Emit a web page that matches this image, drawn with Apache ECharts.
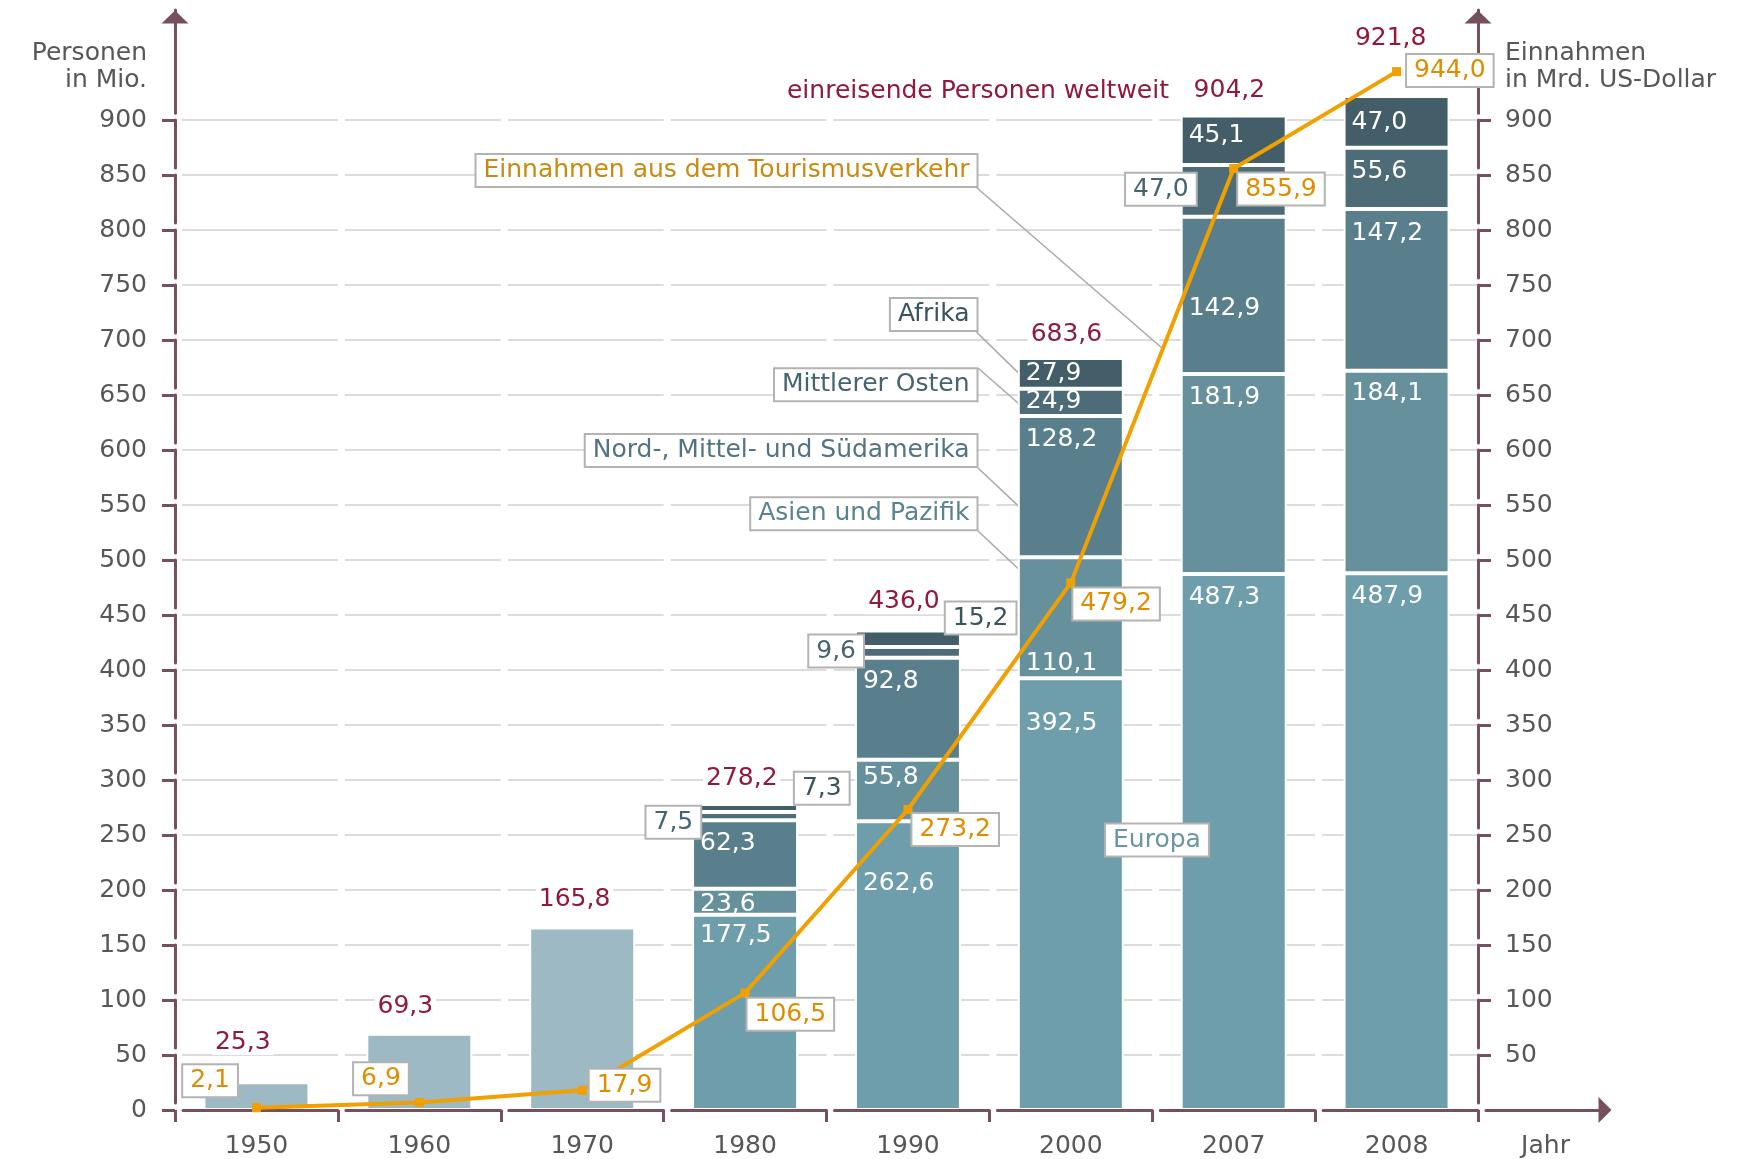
<!DOCTYPE html>
<html>
<head>
<meta charset="utf-8">
<script src="https://cdn.jsdelivr.net/npm/echarts@6/dist/echarts.min.js"></script>
<style>html,body{margin:0;padding:0;background:#fff}#c{width:1746px;height:1159px}</style>
</head>
<body>
<div id="c"></div>
<script>
// ---------------- DATA ----------------
const years = ['1950', '1960', '1970', '1980', '1990', '2000', '2007', '2008'];
const weltweit = [25.3, 69.3, 165.8, 278.2, 436.0, 683.6, 904.2, 921.8];
const europa = ['-', '-', '-', 177.5, 262.6, 392.5, 487.3, 487.9];
const asienPazifik = ['-', '-', '-', 23.6, 55.8, 110.1, 181.9, 184.1];
const amerika = ['-', '-', '-', 62.3, 92.8, 128.2, 142.9, 147.2];
const mittlererOsten = ['-', '-', '-', 7.5, 9.6, 24.9, 47.0, 55.6];
const afrika = ['-', '-', '-', 7.3, 15.2, 27.9, 45.1, 47.0];
const einnahmen = [2.1, 6.9, 17.9, 106.5, 273.2, 479.2, 855.9, 944.0];
const yTicks = [0, 50, 100, 150, 200, 250, 300, 350, 400, 450, 500, 550, 600, 650, 700, 750, 800, 850, 900];
const yTicksRight = yTicks.slice(1);
const Y_MAX = 1000;

// ---------------- STYLE / LAYOUT ----------------
const FONT = 'DejaVu Sans';
const FS = 25;
const AX = '#77505f';
const GRAY = '#575757';
const RED = '#8f1a3b';
const BORDER = '#b3b3b3';
const C = {
  old: '#9db9c4', europa: '#6e9eab', asien: '#65909c', amerika: '#5a7f8c', mo: '#4e6c78', afrika: '#435e68',
  line: '#f0a000', lineText: '#de8c00', legendLine: '#c98a12'
};
const TXT = { europa: '#6a96a4', asien: '#5a8391', amerika: '#527482', mo: '#466470', afrika: '#3a545e' };
const W = 1746, H = 1159;
const G = { left: 175, right: 268, top: 10, height: 1100 };
const CAT_W = (W - G.left - G.right) / years.length;
const PX50 = G.height / (Y_MAX / 50);
const BAR_W = 106;       // incl. white separator stroke
const SEP = 2;           // white separator width
const fmt = v => Number(v).toFixed(1).replace('.', ',');

// label placement tables (offsets in px)
const segDy = {
  europa:  [0, 0, 0, 20.7, 62, 45.3, 23.5, 23.2],
  asien:   [0, 0, 0, 15.7, 18, 106.7, 24, 23],
  amerika: [0, 0, 0, 23, 24, 23, 91.8, 24.8],
  mo:      [0, 0, 0, 0, 0, 13, 0, 24],
  afrika:  [0, 0, 0, 0, 0, 15.7, 20, 26.8]
};
const boxed = {
  mo: { 3: [-18.7, 10.3], 4: [-18.8, 3.9], 6: [-19.8, 24.3] },
  afrika: { 3: [129.7, -15.7], 4: [125.7, -12.3] }
};
const totalOffsets = [[-13.7, -39.6], [-14, -26.8], [-7.6, -28.6], [-3.3, -25.5], [-4, -28.6], [-4.4, -24], [-4.3, -25.3], [-5.9, -58]];
const lineLabelPos = [
  { position: 'left', distance: 15, offset: [0, -27] },
  { position: 'left', distance: 7, offset: [0, -23.6] },
  { position: 'right', distance: 3, offset: [0, -5] },
  { position: 'right', distance: 0, offset: [-2, 21.5] },
  { position: 'right', distance: 0, offset: [0, 20] },
  { position: 'right', distance: 0, offset: [-2, 21] },
  { position: 'right', distance: 0, offset: [0, 20.5] },
  { position: 'right', distance: 6, offset: [0, -1] }
];

const boxStyle = { backgroundColor: '#fff', borderColor: BORDER, borderWidth: 2, padding: [4, 7, 2, 7] };

function segSeries(name, key, values) {
  return {
    name, type: 'bar', stack: 'welt', barWidth: BAR_W, barGap: '-100%',
    xAxisIndex: 0, yAxisIndex: 0, z: 2,
    itemStyle: { color: C[key], borderColor: '#fff', borderWidth: SEP },
    data: values.map((v, i) => {
      if (v === '-') return '-';
      const b = boxed[key] && boxed[key][i];
      const label = b ? Object.assign({
        show: true, position: 'insideTopLeft', distance: 0, align: 'center', verticalAlign: 'middle',
        offset: b, color: TXT[key], fontFamily: FONT, fontSize: FS, formatter: p => fmt(p.value)
      }, boxStyle) : {
        show: true, position: 'insideTopLeft', distance: 0, align: 'left', verticalAlign: 'middle',
        offset: [8, segDy[key][i]], color: '#fff', fontFamily: FONT, fontSize: FS, formatter: p => fmt(p.value)
      };
      return { value: v, label };
    })
  };
}

const axisTxt = { color: GRAY, fontFamily: FONT, fontSize: FS };
const dashedAxisLine = { show: true, onZero: false, lineStyle: { color: AX, width: 3, type: [PX50 - 7, 7], dashOffset: PX50 - 7 } };

const option = {
  animation: false,
  backgroundColor: '#fff',
  grid: [
    { left: G.left, right: G.right, top: G.top, height: G.height, outerBoundsMode: 'none', containLabel: false },
    { left: G.left, right: G.right, top: 17, height: 96, outerBoundsMode: 'none', containLabel: false },
    { left: 1486, right: W - 1605, top: G.top, height: G.height, outerBoundsMode: 'none', containLabel: false }
  ],
  xAxis: [
    {
      gridIndex: 0, type: 'category', data: years, boundaryGap: true, z: 3,
      axisLine: { show: true, onZero: false, lineStyle: { color: AX, width: 3, type: [CAT_W - 8, 8], dashOffset: CAT_W - 8 } },
      axisTick: { show: true, interval: 0, length: 12, inside: false, lineStyle: { color: AX, width: 3 } },
      axisLabel: Object.assign({ interval: 0, margin: 24 }, axisTxt),
      splitLine: { show: false }
    },
    { gridIndex: 1, type: 'value', min: 0, max: 1, show: false },
    {
      gridIndex: 2, type: 'category', data: ['Jahr'],
      axisLine: { show: true, onZero: false, symbol: ['none', 'triangle'], symbolSize: [26, 13], lineStyle: { color: AX, width: 3 } },
      axisTick: { show: false },
      axisLabel: Object.assign({ interval: 0, margin: 24 }, axisTxt),
      splitLine: { show: false }
    }
  ],
  yAxis: [
    {
      gridIndex: 0, type: 'value', min: 0, max: Y_MAX, interval: 50, position: 'left',
      axisLine: dashedAxisLine,
      axisTick: { show: true, length: 13, inside: false, customValues: yTicks, lineStyle: { color: AX, width: 3 } },
      axisLabel: Object.assign({ margin: 28, customValues: yTicks }, axisTxt),
      splitLine: { show: true, lineStyle: { color: '#dcdcdc', width: 2, type: [CAT_W - 7, 7], dashOffset: CAT_W - 7 } }
    },
    {
      gridIndex: 0, type: 'value', min: 0, max: Y_MAX, interval: 50, position: 'right',
      axisLine: dashedAxisLine,
      axisTick: { show: true, length: 13, inside: false, customValues: yTicksRight, lineStyle: { color: AX, width: 3 } },
      axisLabel: Object.assign({ margin: 27, customValues: yTicksRight }, axisTxt),
      splitLine: { show: false }
    },
    {
      gridIndex: 1, type: 'value', min: 0, max: 1, position: 'left',
      axisLine: { show: true, onZero: false, symbol: ['none', 'triangle'], symbolSize: [27, 13], lineStyle: { color: AX, width: 3 } },
      axisTick: { show: false }, axisLabel: { show: false }, splitLine: { show: false }
    },
    {
      gridIndex: 1, type: 'value', min: 0, max: 1, position: 'right',
      axisLine: { show: true, onZero: false, symbol: ['none', 'triangle'], symbolSize: [27, 13], lineStyle: { color: AX, width: 3 } },
      axisTick: { show: false }, axisLabel: { show: false }, splitLine: { show: false }
    },
    { gridIndex: 2, type: 'value', min: 0, max: 1, show: false }
  ],
  series: [
    segSeries('Europa', 'europa', europa),
    segSeries('Asien und Pazifik', 'asien', asienPazifik),
    segSeries('Nord-, Mittel- und Südamerika', 'amerika', amerika),
    segSeries('Mittlerer Osten', 'mo', mittlererOsten),
    segSeries('Afrika', 'afrika', afrika),
    {
      name: 'einreisende Personen weltweit', type: 'bar', barWidth: BAR_W, barGap: '-100%',
      xAxisIndex: 0, yAxisIndex: 0, z: 2,
      data: weltweit.map((v, i) => ({
        value: v,
        itemStyle: i < 3 ? { color: C.old, borderColor: '#fff', borderWidth: SEP } : { color: 'rgba(0,0,0,0)', borderWidth: 0 },
        label: { offset: totalOffsets[i] }
      })),
      label: {
        show: true, position: 'top', distance: 0, align: 'center', verticalAlign: 'middle',
        color: RED, fontFamily: FONT, fontSize: FS, backgroundColor: '#fff', padding: [0, 3],
        formatter: p => fmt(p.value)
      }
    },
    {
      name: 'Einnahmen aus dem Tourismusverkehr', type: 'line', xAxisIndex: 0, yAxisIndex: 1, z: 5,
      symbol: 'rect', symbolSize: 9, showAllSymbol: true,
      lineStyle: { color: C.line, width: 4 },
      itemStyle: { color: C.line },
      data: einnahmen.map((v, i) => ({ value: v, label: lineLabelPos[i] })),
      label: Object.assign({
        show: true, color: C.lineText, fontFamily: FONT, fontSize: FS, formatter: p => fmt(p.value)
      }, boxStyle)
    }
  ]
};

const chart = echarts.init(document.getElementById('c'), null, { renderer: 'canvas', width: W, height: H });
chart.setOption(option);

// ---------------- annotations ----------------
const stackOrder = [europa, asienPazifik, amerika, mittlererOsten, afrika];
function stackBase(k, i) { let s = 0; for (let j = 0; j < k; j++) s += stackOrder[j][i]; return s; }
const connectors = [
  { from: [976.5, 187.5], kind: 'line', a: 5, b: 6, t: 0.565 },
  { from: [976.5, 332], kind: 'seg', s: 4, i: 5, f: 0.5 },
  { from: [978, 368], kind: 'seg', s: 3, i: 5, f: 0.45 },
  { from: [978, 468], kind: 'seg', s: 2, i: 5, f: 0.36 },
  { from: [978, 531], kind: 'seg', s: 1, i: 5, f: 0.9 }
];
const graphics = [];
connectors.forEach(c => {
  let x2, y2;
  if (c.kind === 'line') {
    const p1 = chart.convertToPixel({ xAxisIndex: 0, yAxisIndex: 1 }, [c.a, einnahmen[c.a]]);
    const p2 = chart.convertToPixel({ xAxisIndex: 0, yAxisIndex: 1 }, [c.b, einnahmen[c.b]]);
    x2 = p1[0] + c.t * (p2[0] - p1[0]);
    y2 = p1[1] + c.t * (p2[1] - p1[1]);
  } else {
    const val = stackBase(c.s, c.i) + c.f * stackOrder[c.s][c.i];
    const p = chart.convertToPixel({ xAxisIndex: 0, yAxisIndex: 0 }, [c.i, val]);
    x2 = p[0] - BAR_W / 2 + SEP / 2; y2 = p[1];
  }
  graphics.push({ type: 'line', z: 1, shape: { x1: c.from[0], y1: c.from[1], x2, y2 }, style: { stroke: '#a9a9a9', lineWidth: 1.5 } });
});

const legendBoxes = [
  { text: 'Einnahmen aus dem Tourismusverkehr', color: C.legendLine, y: 170.4 },
  { text: 'Afrika', color: TXT.afrika, y: 314.5 },
  { text: 'Mittlerer Osten', color: TXT.mo, y: 384.7 },
  { text: 'Nord-, Mittel- und Südamerika', color: TXT.amerika, y: 450.4 },
  { text: 'Asien und Pazifik', color: TXT.asien, y: 513.8 }
];
legendBoxes.forEach(b => {
  graphics.push({
    type: 'text', z: 10, x: 976.5, y: b.y,
    style: { text: b.text, fill: b.color, fontFamily: FONT, fontSize: FS, align: 'right', verticalAlign: 'middle',
      backgroundColor: '#fff', borderColor: BORDER, borderWidth: 2, padding: [4, 7, 2, 7] }
  });
});
graphics.push({
  type: 'text', z: 10, x: 1157, y: 840,
  style: { text: 'Europa', fill: TXT.europa, fontFamily: FONT, fontSize: FS, align: 'center', verticalAlign: 'middle',
    backgroundColor: '#fff', borderColor: BORDER, borderWidth: 2, padding: [4, 7, 2, 7] }
});
graphics.push({
  type: 'text', z: 10, x: 1169, y: 91,
  style: { text: 'einreisende Personen weltweit', fill: RED, fontFamily: FONT, fontSize: FS, align: 'right', verticalAlign: 'middle' }
});
graphics.push({
  type: 'text', z: 10, x: 147, y: 39.5,
  style: { text: 'Personen\nin Mio.', fill: GRAY, fontFamily: FONT, fontSize: FS, lineHeight: 27, align: 'right', verticalAlign: 'top' }
});
graphics.push({
  type: 'text', z: 10, x: 1505, y: 39.5,
  style: { text: 'Einnahmen\nin Mrd. US-Dollar', fill: GRAY, fontFamily: FONT, fontSize: FS, lineHeight: 27, align: 'left', verticalAlign: 'top' }
});

chart.setOption({ graphic: graphics });
</script>
</body>
</html>
